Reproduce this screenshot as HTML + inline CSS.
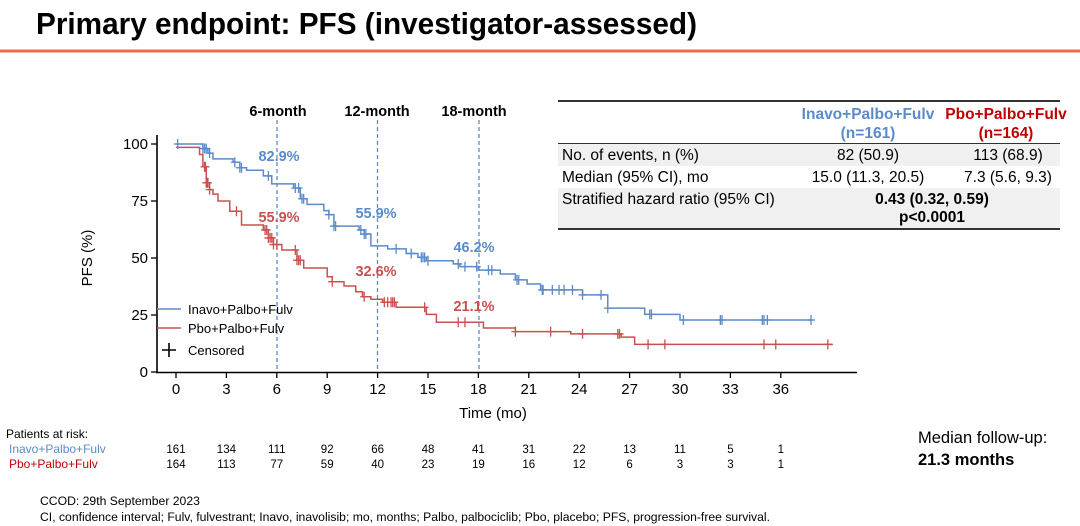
<!DOCTYPE html>
<html><head><meta charset="utf-8"><style>
html,body{margin:0;padding:0;background:#fff;}
svg{display:block;font-family:"Liberation Sans",Arial,sans-serif;}
</style></head><body>
<svg id="s" width="1080" height="526" viewBox="0 0 1080 526" xmlns="http://www.w3.org/2000/svg">
<text x="36" y="34" font-size="31" font-weight="bold" textLength="661" lengthAdjust="spacingAndGlyphs" fill="#000">Primary endpoint: PFS (investigator-assessed)</text>
<rect x="0" y="49.5" width="1080" height="3" fill="#ee6c4d"/>

<g stroke="#000" stroke-width="1.6" fill="none">
<line x1="157" y1="135" x2="157" y2="373"/>
<line x1="156" y1="372.5" x2="857" y2="372.5"/>
</g>
<g id="ticks" stroke="#000" stroke-width="1.3"></g>
<g id="labels" font-size="15" fill="#000"></g>
<text x="0" y="0" font-size="15" transform="translate(92,258) rotate(-90)" text-anchor="middle">PFS (%)</text>
<text x="493" y="418" font-size="15" text-anchor="middle">Time (mo)</text>

<g stroke="#5b8bc9" stroke-width="1.3" stroke-dasharray="4,3">
<line x1="277" y1="120" x2="277" y2="372"/>
<line x1="377.5" y1="120" x2="377.5" y2="372"/>
<line x1="479" y1="120" x2="479" y2="372"/>
</g>
<g font-size="14.5" font-weight="bold" text-anchor="middle">
<text x="278" y="116">6-month</text>
<text x="377" y="116">12-month</text>
<text x="474" y="116">18-month</text>
</g>

<g id="curves"></g>

<g font-size="14.5" font-weight="bold" text-anchor="middle">
<text x="279" y="161" fill="#5b8bc9">82.9%</text>
<text x="279" y="222" fill="#c9504f">55.9%</text>
<text x="376" y="218" fill="#5b8bc9">55.9%</text>
<text x="376" y="276" fill="#c9504f">32.6%</text>
<text x="474" y="252" fill="#5b8bc9">46.2%</text>
<text x="474" y="311" fill="#c9504f">21.1%</text>
</g>

<line x1="157" y1="309" x2="181" y2="309" stroke="#5b8bc9" stroke-width="1.6"/>
<line x1="157" y1="328" x2="181" y2="328" stroke="#c9504f" stroke-width="1.6"/>
<path d="M162 350 h14 M169 343 v14" stroke="#000" stroke-width="1.6"/>
<g font-size="13">
<text x="188" y="314">Inavo+Palbo+Fulv</text>
<text x="188" y="333">Pbo+Palbo+Fulv</text>
<text x="188" y="355">Censored</text>
</g>

<rect x="558" y="143" width="502" height="23" fill="#f0f0f0"/>
<rect x="558" y="188" width="502" height="40" fill="#f0f0f0"/>
<line x1="558" y1="101" x2="1060" y2="101" stroke="#333" stroke-width="2"/>
<line x1="558" y1="143.5" x2="1060" y2="143.5" stroke="#333" stroke-width="1"/>
<line x1="558" y1="229" x2="1060" y2="229" stroke="#333" stroke-width="2"/>
<g font-size="15.5" font-weight="bold" text-anchor="middle">
<text x="868" y="119" fill="#5b8bc9">Inavo+Palbo+Fulv</text>
<text x="868" y="138" fill="#5b8bc9">(n=161)</text>
<text x="1006" y="119" fill="#c00000">Pbo+Palbo+Fulv</text>
<text x="1006" y="138" fill="#c00000">(n=164)</text>
</g>
<g font-size="15.5">
<text x="562" y="160">No. of events, n (%)</text>
<text x="562" y="182">Median (95% CI), mo</text>
<text x="562" y="204">Stratified hazard ratio (95% CI)</text>
</g>
<g font-size="15.5" text-anchor="middle">
<text x="868" y="160">82 (50.9)</text>
<text x="1008" y="160">113 (68.9)</text>
<text x="868" y="182">15.0 (11.3, 20.5)</text>
<text x="1008" y="182">7.3 (5.6, 9.3)</text>
<text x="932" y="204" font-weight="bold">0.43 (0.32, 0.59)</text>
<text x="932" y="222" font-weight="bold">p&lt;0.0001</text>
</g>

<g font-size="12">
<text x="6" y="438">Patients at risk:</text>
<text x="9" y="453" fill="#5b8bc9">Inavo+Palbo+Fulv</text>
<text x="9" y="468" fill="#c00000">Pbo+Palbo+Fulv</text>
</g>
<g id="risk" font-size="11.5" text-anchor="middle"></g>

<g font-size="16.5">
<text x="918" y="443">Median follow-up:</text>
<text x="918" y="465" font-weight="bold">21.3 months</text>
</g>
<g font-size="12.2">
<text x="40" y="505">CCOD: 29th September 2023</text>
<text x="40" y="521">CI, confidence interval; Fulv, fulvestrant; Inavo, inavolisib; mo, months; Palbo, palbociclib; Pbo, placebo; PFS, progression-free survival.</text>
</g>
</svg>
<script>
var NS="http://www.w3.org/2000/svg";
function X(m){return 176+m*16.8;}
function Y(p){return 372-p*2.28;}
function el(t,a,p){var e=document.createElementNS(NS,t);for(var k in a)e.setAttribute(k,a[k]);if(p)p.appendChild(e);return e;}
var ticks=document.getElementById('ticks'),labels=document.getElementById('labels');
for(var i=0;i<=12;i++){var x=X(i*3);el('line',{x1:x,y1:372,x2:x,y2:378},ticks);var t=el('text',{x:x,y:394,'text-anchor':'middle'},labels);t.textContent=i*3;}
[0,25,50,75,100].forEach(function(v){var y=Y(v);el('line',{x1:151,y1:y,x2:157,y2:y},ticks);var t=el('text',{x:148,y:y+5,'text-anchor':'end'},labels);t.textContent=v;});
var blue=[[0,100],[1.6,98],[1.9,96],[2.2,93.5],[3.4,92],[3.8,89.6],[4.2,88.5],[5.2,86],[5.7,82.5],[7,80.7],[7.4,76],[7.8,73.5],[8.8,70.8],[9.1,69],[9.4,64],[10.9,62.3],[11.2,60.5],[11.6,55.3],[12.6,54],[13.7,52],[14.4,50.3],[14.9,48.8],[16.5,47.4],[16.9,46.2],[18,44.7],[19.3,43],[20.2,40.4],[20.9,38.6],[21.7,36],[24.2,33.8],[25.7,28],[27.9,25.3],[30,22.8],[37.9,22.8]];
var red=[[0,98.5],[1.4,95.4],[1.6,90],[1.8,83],[2,80],[2.2,78],[2.5,75],[3.2,70.5],[3.9,64.5],[5.2,62.3],[5.5,58.8],[5.8,55.9],[6.3,53.5],[7.2,49],[7.6,45.6],[9,41.8],[9.3,39.6],[10,37.7],[10.7,35.2],[11.1,33],[11.6,31.9],[12.3,30.6],[13.1,28.4],[14.9,25.3],[15.5,21.8],[18.3,19.3],[20.2,17.7],[23.5,16.7],[26.5,15.3],[27.3,12.1],[39.1,12.1]];
function path(d){var s='M'+X(d[0][0])+' '+Y(d[0][1]);for(var i=1;i<d.length;i++){s+=' H'+X(d[i][0])+' V'+Y(d[i][1]);}return s;}
function val(d,m){var v=d[0][1];for(var i=0;i<d.length;i++){if(d[i][0]<=m)v=d[i][1];}return v;}
var c=document.getElementById('curves');
el('path',{d:path(blue),stroke:'#5b8bc9','stroke-width':1.5,fill:'none'},c);
el('path',{d:path(red),stroke:'#c9504f','stroke-width':1.5,fill:'none'},c);
var bc=[0.1,1.6,1.7,1.8,2,3.5,3.8,3.9,5.5,7.1,7.3,7.5,7.6,9.1,9.4,9.5,11,11.2,11.3,13.1,14,14.6,14.7,14.8,15,16.8,17.2,17.9,18.6,18.8,20.3,20.4,21.8,21.85,22.4,22.8,23.1,23.6,24.2,25.3,25.7,28.2,28.3,30.2,32.4,32.5,34.9,35,35.2,37.8];
var rc=[1.7,1.75,1.8,1.85,1.9,2,3.6,5.3,5.4,5.5,5.6,5.7,5.8,6,7.1,7.2,7.3,7.4,9.3,11.2,12.4,12.6,12.8,12.9,13,14.8,16.8,17.2,20.2,22.3,24.2,26.3,26.4,28.1,29.1,35,35.7,38.8];
function cens(list,d,col){list.forEach(function(m){var x=X(m),y=Y(val(d,m));el('path',{d:'M'+(x-4)+' '+y+' h8 M'+x+' '+(y-5)+' v10',stroke:col,'stroke-width':1.3},c);});}
cens(bc,blue,'#5b8bc9');cens(rc,red,'#c9504f');
var rb=[161,134,111,92,66,48,41,31,22,13,11,5,1],rr=[164,113,77,59,40,23,19,16,12,6,3,3,1];
var r=document.getElementById('risk');
for(var i=0;i<13;i++){var t=el('text',{x:X(i*3),y:453},r);t.textContent=rb[i];t=el('text',{x:X(i*3),y:468},r);t.textContent=rr[i];}
</script>
</body></html>
